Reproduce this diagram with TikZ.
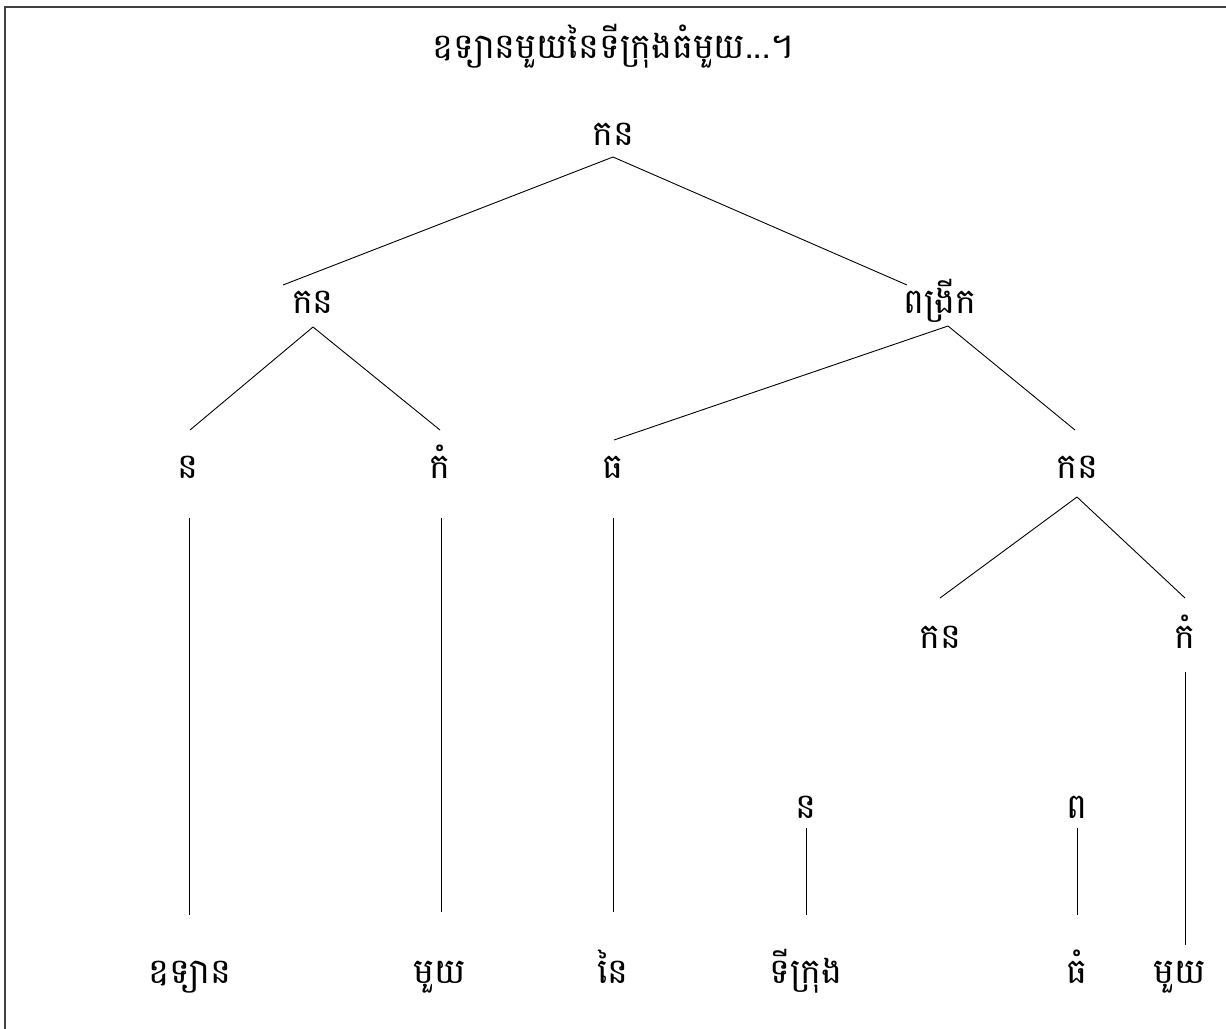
\documentclass[tikz,border=0pt]{standalone}
\usepackage{fontspec}
\newfontfamily\khmerfont[Script=Khmer]{Battambang}
\usetikzlibrary{calc}
\tikzset{
  lbl/.style={inner sep=0pt,anchor=base,font=\khmerfont\fontsize{35}{42}\selectfont},
  edge/.style={line width=0.9pt},
}

\begin{document}
\begin{tikzpicture}[x=1pt,y=-1pt]
\useasboundingbox (0,0) rectangle (1226,1028);
\draw[line width=2pt,black!75] (4.5,6.5) rectangle (1240,1040);
% labels
\node[lbl] (title) at (613,58) {ឧទ្យានមួយនៃទីក្រុងធំមួយ...។};
\node[lbl] (root) at (613,145) {កន};
\node[lbl] (np) at (313,313) {កន};
\node[lbl] (ext) at (940,313) {ពង្រីក};
\node[lbl] (n1) at (188,478) {ន};
\node[lbl] (k1) at (440,478) {កំ};
\node[lbl] (th) at (613,478) {ធ};
\node[lbl] (np2) at (1077,478) {កន};
\node[lbl] (np3) at (940,648) {កន};
\node[lbl] (k2) at (1185,648) {កំ};
\node[lbl] (n2) at (806,818) {ន};
\node[lbl] (p2) at (1077,818) {ព};
\node[lbl] (w1) at (190,983) {ឧទ្យាន};
\node[lbl] (w2) at (440,983) {មួយ};
\node[lbl] (w3) at (613,983) {នៃ};
\node[lbl] (w4) at (806,983) {ទីក្រុង};
\node[lbl] (w5) at (1077,983) {ធំ};
\node[lbl] (w6) at (1180,983) {មួយ};
% branches
\draw[edge] ($(root.base)+(0,12)$) -- ($(np.base)+(-30,-28)$);
\draw[edge] ($(root.base)+(0,12)$) -- ($(ext.base)+(-33,-28)$);
\draw[edge] ($(np.base)+(0,14)$) -- ($(n1.base)+(2,-48)$);
\draw[edge] ($(np.base)+(0,14)$) -- ($(k1.base)+(0,-48)$);
\draw[edge] ($(ext.base)+(8,13)$) -- ($(th.base)+(1,-38)$);
\draw[edge] ($(ext.base)+(8,13)$) -- ($(np2.base)+(-2,-48)$);
\draw[edge] ($(n1.base)+(1,40)$) -- ($(w1.base)+(-1,-68)$);
\draw[edge] ($(k1.base)+(1,40)$) -- ($(w2.base)+(1,-71)$);
\draw[edge] ($(th.base)+(0,40)$) -- ($(w3.base)+(0,-71)$);
\draw[edge] ($(np2.base)+(0,19)$) -- ($(np3.base)+(0,-50)$);
\draw[edge] ($(np2.base)+(0,19)$) -- ($(k2.base)+(0,-50)$);
\draw[edge] ($(k2.base)+(0,24)$) -- ($(w6.base)+(5,-38)$);
\draw[edge] ($(n2.base)+(0,10)$) -- ($(w4.base)+(0,-68)$);
\draw[edge] ($(p2.base)+(0,10)$) -- ($(w5.base)+(0,-68)$);
\end{tikzpicture}
\end{document}
